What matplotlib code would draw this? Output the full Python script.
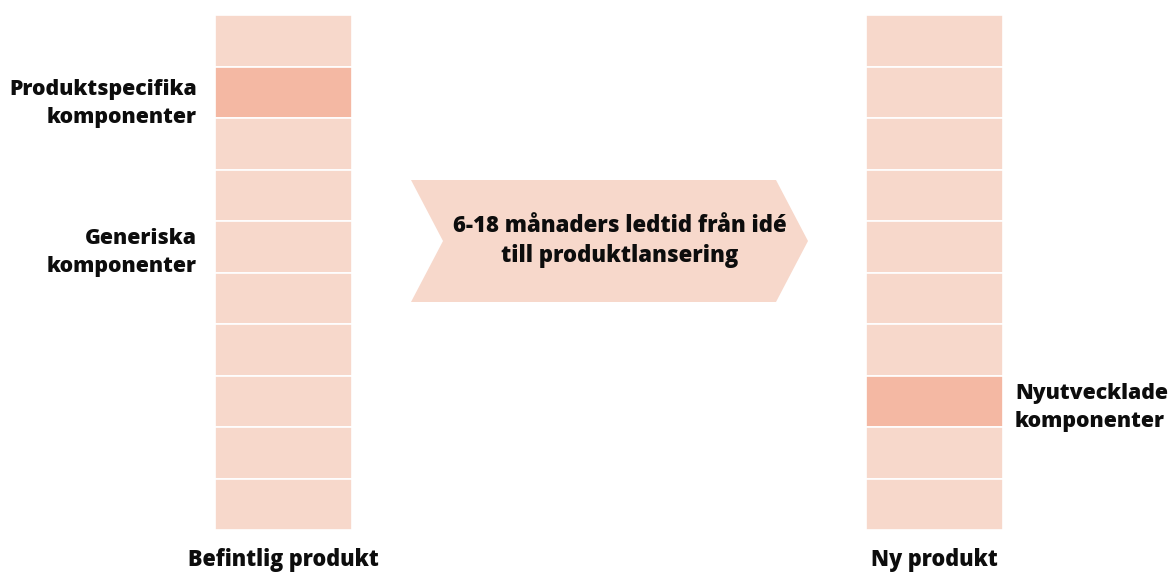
import matplotlib
matplotlib.use("Agg")
import matplotlib.pyplot as plt
from matplotlib.patches import Polygon

plt.rcParams['font.family'] = ['Open Sans', 'DejaVu Sans']

# data: two products, each built of 10 equal components
products = ["Befintlig produkt", "Ny produkt"]
n_components = 10
highlight_index = [1, 7]          # component counted from the top
side_labels = [
    ("Produktspecifika\nkomponenter", 0, 123),
    ("Generiska\nkomponenter", 0, 272),
    ("Nyutvecklade\nkomponenter", 1, 427),
]
arrow_text = "6-18 månaders ledtid från idé\ntill produktlansering"

light = "#F7D8CB"
strong = "#F4B8A3"

fig = plt.figure(figsize=(11.72, 5.73), dpi=100)
ax = fig.add_axes([0, 0, 1, 1])
ax.set_xlim(0, 1172)
ax.set_ylim(573, 0)
ax.axis("off")

col_x = [283, 934]
col_w = 137
top = 15
seg_h = 51.5
fw = "heavy"
ink = "#0d0d0d"

for p, name in enumerate(products):
    heights = [seg_h] * n_components
    bottoms = [top + i * seg_h for i in range(n_components)]
    colors = [strong if i == highlight_index[p] else light for i in range(n_components)]
    ax.bar([col_x[p]] * n_components, heights, bottom=bottoms, width=col_w,
           color=colors, edgecolor="white", linewidth=1.2)
    ax.text(col_x[p], 566, name, ha="center", va="baseline",
            fontsize=15.6, fontweight=fw, color=ink)

for txt, p, ybase in side_labels:
    if p == 0:
        ax.text(197, ybase, txt, ha="right", va="baseline", fontsize=15.3,
                fontweight=fw, color=ink, linespacing=1.42)
    else:
        ax.text(1015, ybase, txt, ha="left", va="baseline", fontsize=15.3,
                fontweight=fw, color=ink, linespacing=1.42)

# chevron arrow
chev = Polygon([(411, 180), (776, 180), (808, 241), (776, 302),
                (411, 302), (443, 241)], closed=True,
               facecolor=light, edgecolor="none")
ax.add_patch(chev)
ax.text(620, 262, arrow_text, ha="center", va="baseline", fontsize=15.9,
        fontweight=fw, color=ink, linespacing=1.33)

fig.savefig("out.png", dpi=100)
